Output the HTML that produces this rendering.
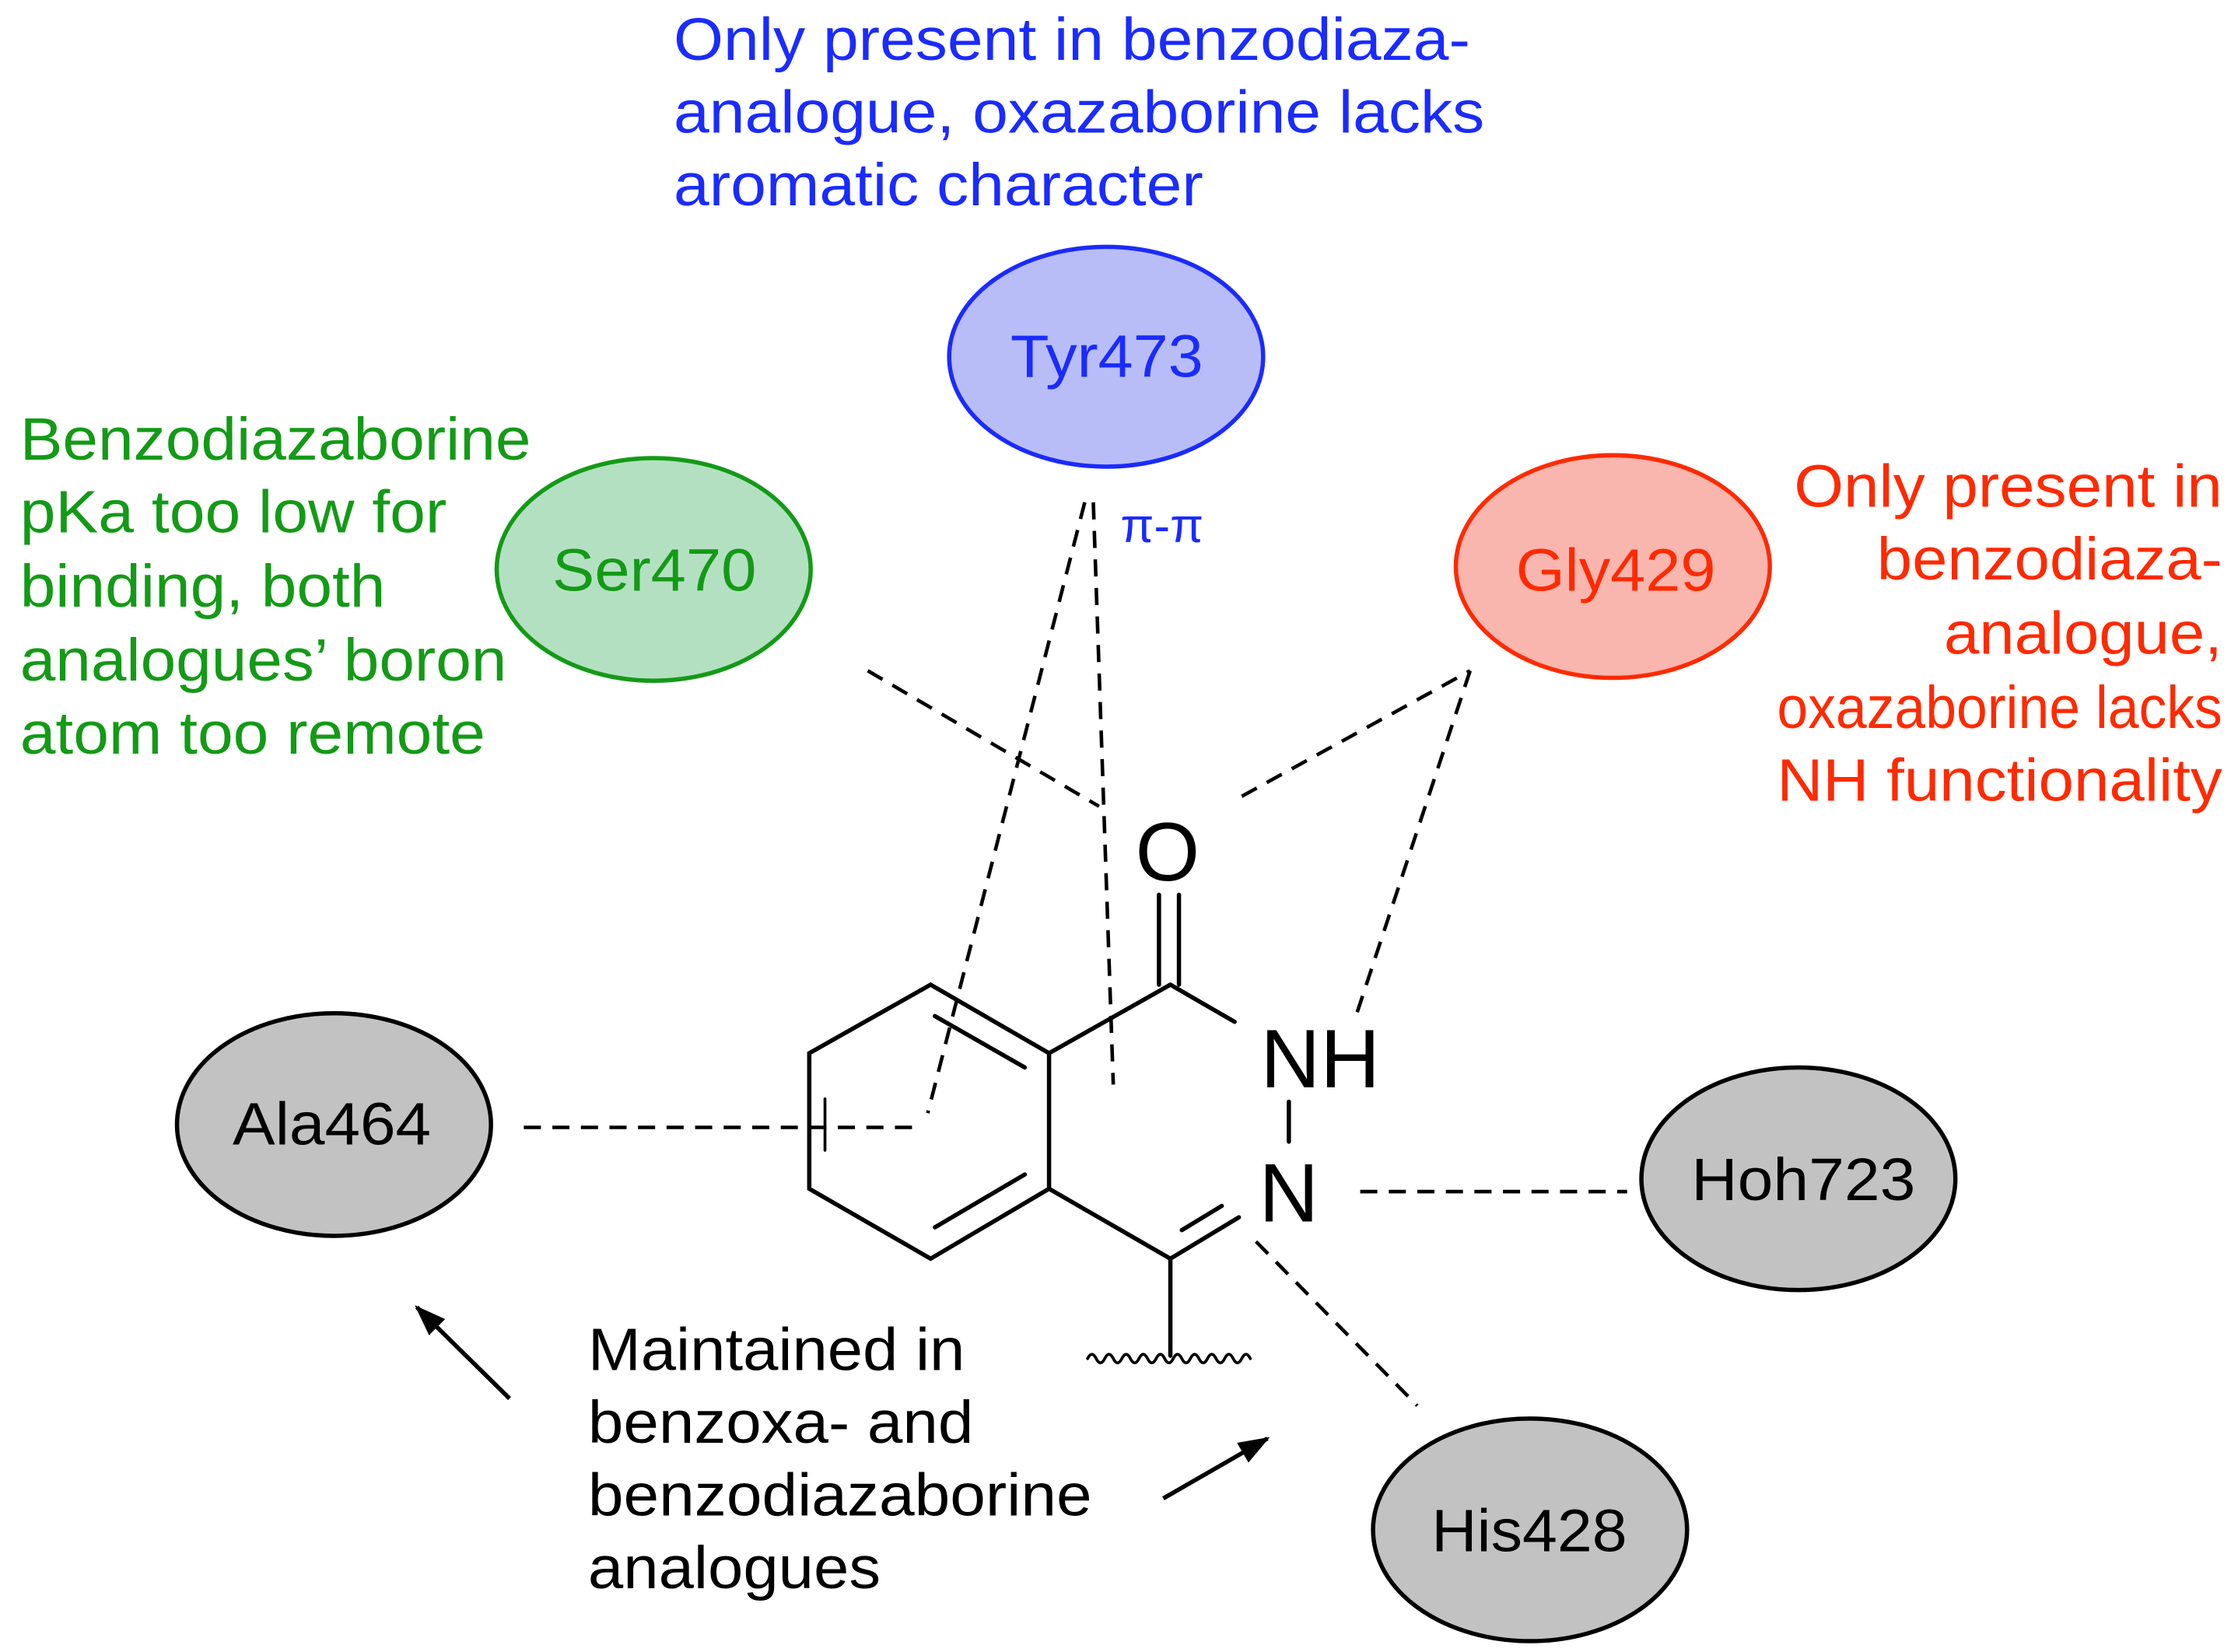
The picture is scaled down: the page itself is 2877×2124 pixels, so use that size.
<!DOCTYPE html>
<html><head><meta charset="utf-8"><style>
html,body{margin:0;padding:0;background:#fff;}
svg{display:block;}
text{font-family:"Liberation Sans",sans-serif;}
</style></head><body>
<svg width="2877" height="2124" viewBox="0 0 1568 1157.6" xmlns="http://www.w3.org/2000/svg">
<defs>
<marker id="ah2" markerWidth="22" markerHeight="16" refX="20" refY="8" orient="auto" markerUnits="userSpaceOnUse"><path d="M0,0 L22,8 L0,16 Z" fill="#000"/></marker></defs>
<g font-size="42" fill="#1a2bff" lengthAdjust="spacingAndGlyphs">
<text x="472" y="42" textLength="558" lengthAdjust="spacingAndGlyphs">Only present in benzodiaza-</text>
<text x="472" y="93" textLength="568" lengthAdjust="spacingAndGlyphs">analogue, oxazaborine lacks</text>
<text x="472" y="144" textLength="371" lengthAdjust="spacingAndGlyphs">aromatic character</text>
</g>
<g font-size="42" fill="#139a16">
<text x="14" y="322" textLength="358" lengthAdjust="spacingAndGlyphs">Benzodiazaborine</text>
<text x="14" y="373" textLength="299" lengthAdjust="spacingAndGlyphs">pKa too low for</text>
<text x="14" y="425" textLength="256" lengthAdjust="spacingAndGlyphs">binding, both</text>
<text x="14" y="477" textLength="341" lengthAdjust="spacingAndGlyphs">analogues’ boron</text>
<text x="14" y="528" textLength="326" lengthAdjust="spacingAndGlyphs">atom too remote</text>
</g>
<g font-size="42" fill="#ff2a00">
<text x="1257" y="355" textLength="300" lengthAdjust="spacingAndGlyphs">Only present in</text>
<text x="1315" y="406" textLength="242" lengthAdjust="spacingAndGlyphs">benzodiaza-</text>
<text x="1362" y="458" textLength="195" lengthAdjust="spacingAndGlyphs">analogue,</text>
<text x="1245" y="510" textLength="312" lengthAdjust="spacingAndGlyphs">oxazaborine lacks</text>
<text x="1245" y="561" textLength="312" lengthAdjust="spacingAndGlyphs">NH functionality</text>
</g>
<g font-size="42" fill="#000">
<text x="412" y="960" textLength="264" lengthAdjust="spacingAndGlyphs">Maintained in</text>
<text x="412" y="1011" textLength="270" lengthAdjust="spacingAndGlyphs">benzoxa- and</text>
<text x="412" y="1062" textLength="353" lengthAdjust="spacingAndGlyphs">benzodiazaborine</text>
<text x="412" y="1113" textLength="205" lengthAdjust="spacingAndGlyphs">analogues</text>
</g>
<ellipse cx="775" cy="250" rx="110" ry="77" fill="#b9bdf7" stroke="#1a2bff" stroke-width="3"/>
<text x="708" y="264" font-size="42" fill="#1a2bff" textLength="135" lengthAdjust="spacingAndGlyphs">Tyr473</text>
<ellipse cx="458" cy="399" rx="110" ry="78" fill="#b4e0c2" stroke="#139a16" stroke-width="3"/>
<text x="387" y="414" font-size="42" fill="#139a16" textLength="143" lengthAdjust="spacingAndGlyphs">Ser470</text>
<ellipse cx="1130" cy="397" rx="110" ry="78" fill="#f9b6ae" stroke="#ff2a00" stroke-width="3"/>
<text x="1062" y="414" font-size="42" fill="#ff2a00" textLength="140" lengthAdjust="spacingAndGlyphs">Gly429</text>
<g fill="#c2c2c2" stroke="#000" stroke-width="3">
<ellipse cx="234" cy="788" rx="110" ry="78"/>
<ellipse cx="1260" cy="826" rx="110" ry="78"/>
<ellipse cx="1072" cy="1072" rx="110" ry="78"/>
</g>
<g font-size="42" fill="#000">
<text x="163" y="802" textLength="139" lengthAdjust="spacingAndGlyphs">Ala464</text>
<text x="1185" y="841" textLength="157" lengthAdjust="spacingAndGlyphs">Hoh723</text>
<text x="1003" y="1087" textLength="137" lengthAdjust="spacingAndGlyphs">His428</text>
</g>
<text x="785" y="380" font-size="34" fill="#1a2bff" font-family="Liberation Serif,serif">π-π</text>
<g stroke="#000" stroke-width="3" fill="none" stroke-linecap="round">
<path d="M652,690 L735,738 L735,833 L652,882 L567,833 L567,738 Z"/>
<line x1="655" y1="712" x2="718" y2="748"/>
<line x1="655" y1="860" x2="718" y2="823"/>
<line x1="735" y1="738" x2="820" y2="690"/>
<line x1="812" y1="690" x2="812" y2="627"/>
<line x1="826" y1="690" x2="826" y2="627"/>
<line x1="820" y1="690" x2="865" y2="716"/>
<line x1="903" y1="772" x2="903" y2="800"/>
<line x1="735" y1="833" x2="820" y2="882"/>
<line x1="820" y1="882" x2="868" y2="853"/>
<line x1="828" y1="862" x2="856" y2="845"/>
<line x1="820" y1="882" x2="820" y2="950"/>
<path d="M762,952 q3,-6 6,0 t6,0 t6,0 t6,0 t6,0 t6,0 t6,0 t6,0 t6,0 t6,0 t6,0 t6,0 t6,0 t6,0 t6,0 t6,0 t6,0 t6,0 t6,0" stroke-width="2"/>
<line x1="578" y1="770" x2="578" y2="806" stroke-width="2"/>
</g>
<g font-size="58" fill="#000" text-anchor="middle">
<text x="818" y="617">O</text>
<text x="925" y="762">NH</text>
<text x="903" y="856">N</text>
</g>
<g stroke="#000" stroke-width="2.5" stroke-dasharray="12,8" fill="none">
<line x1="367" y1="790" x2="640" y2="790"/>
<line x1="608" y1="470" x2="770" y2="565"/>
<line x1="760" y1="352" x2="650" y2="780"/>
<line x1="766" y1="352" x2="780" y2="760"/>
<line x1="870" y1="558" x2="1030" y2="470"/>
<line x1="1030" y1="470" x2="950" y2="712"/>
<line x1="953" y1="835" x2="1140" y2="835"/>
<line x1="880" y1="870" x2="993" y2="985"/>
</g>
<g stroke="#000" stroke-width="3">
<line x1="357" y1="980" x2="292" y2="916" marker-end="url(#ah2)"/>
<line x1="815" y1="1050" x2="888" y2="1008" marker-end="url(#ah2)"/>
</g>
</svg>
</body></html>
